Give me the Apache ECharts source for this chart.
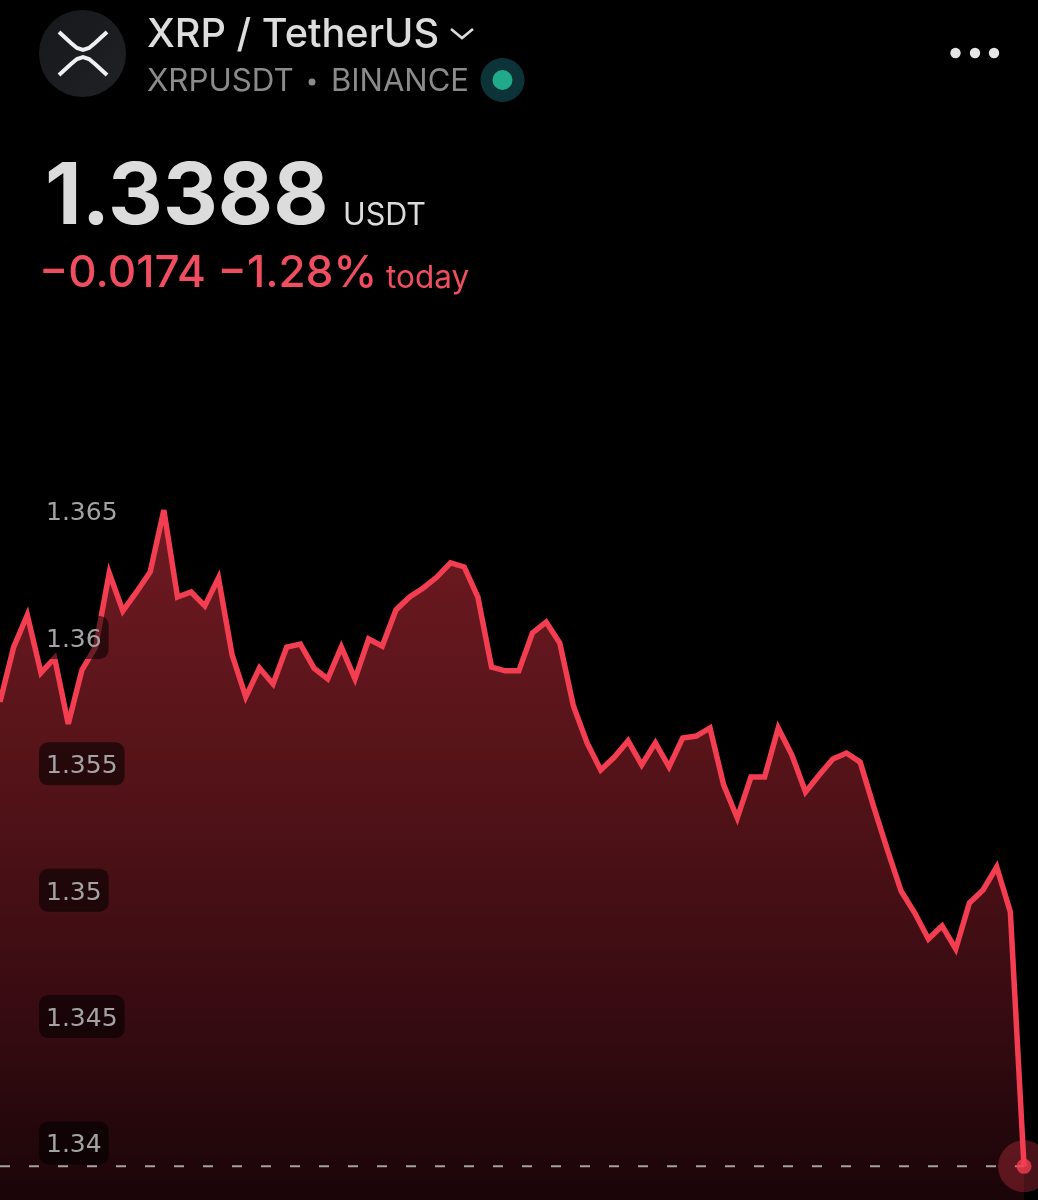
<!DOCTYPE html>
<html>
<head>
<meta charset="utf-8">
<style>html,body{margin:0;padding:0;background:#000}#c{width:1038px;height:1200px}</style>
<script src="https://cdn.jsdelivr.net/npm/echarts@6/dist/echarts.min.js"></script>
</head>
<body>
<div id="c"></div>
<script>
const prices = [
1.35717,1.35934,1.36061,1.35832,1.35891,1.35630,1.35843,1.35934,1.36227,1.36077,
1.36152,1.36231,1.36476,1.36132,1.36152,1.36097,1.36207,1.35903,1.35737,1.35851,
1.35788,1.35934,1.35946,1.35851,1.35808,1.35934,1.35808,1.35966,1.35938,1.36081,
1.36132,1.36168,1.36211,1.36267,1.36251,1.36132,1.35855,1.35840,1.35840,1.35990,
1.36033,1.35950,1.35701,1.35555,1.35448,1.35499,1.35563,1.35468,1.35555,1.35460,
1.35574,1.35582,1.35614,1.35389,1.35258,1.35420,1.35420,1.35614,1.35507,1.35361,
1.35428,1.35491,1.35515,1.35479,1.35301,1.35131,1.34969,1.34882,1.34779,1.34831,
1.34740,1.34922,1.34973,1.35064,1.34886,1.3388];
const categories = prices.map((_, i) => String(i));
const yTicks = [1.34, 1.345, 1.35, 1.355, 1.36, 1.365];
const lastPrice = 1.3388;
const titleText = 'XRP / TetherUS';
const subLeft = 'XRPUSDT';
const subRight = 'BINANCE';
const priceText = '1.3388';
const unitText = 'USDT';
const changeText = '\u22120.0174 \u22121.28%';
const todayText = 'today';

const FONT = 'Inter, "Noto Sans", sans-serif';
const RED = '#f33e52';
const chart = echarts.init(document.getElementById('c'), null, {renderer:'canvas', width:1038, height:1200});

function txt(text, x, y, size, weight, fill) {
  return {type:'text', z:20, silent:true, style:{text, x, y, fill, font:`${weight} ${size}px ${FONT}`, verticalAlign:'middle', align:'left'}};
}
function poly(points, color, w) {
  return {type:'polyline', z:21, silent:true, shape:{points}, style:{stroke:color, fill:null, lineWidth:w}};
}
chart.setOption({
  animation:false,
  backgroundColor:'#000',
  grid:{left:0, width:1024, top:377.6, height:822.4, containLabel:false},
  xAxis:{type:'category', data:categories, boundaryGap:false, show:false},
  yAxis:{
    type:'value', min:1.337468, max:1.37, z:5,
    axisLine:{show:false}, axisTick:{show:false}, splitLine:{show:false},
    axisLabel:{
      inside:true, margin:39, hideOverlap:false, padding:[14,0,0,0],
      customValues:yTicks,
      formatter:v => '{a|' + String(+v.toFixed(3)) + '}',
      rich:{a:{fontFamily:'"DejaVu Sans"', fontSize:25, fontWeight:400, color:'#a3a3a3', backgroundColor:'rgba(0,0,0,0.55)',
        borderRadius:9, padding:[12,7,6,7], lineHeight:24}}
    }
  },
  series:[
    {type:'line', data:prices, symbol:'none', smooth:false, z:2,
     lineStyle:{color:RED, width:5.5, join:'miter', miterLimit:4},
     areaStyle:{opacity:1, color:{type:'linear', global:true, x:0, y:500, x2:0, y2:1200, colorStops:[
       {offset:0, color:'#701a22'},{offset:0.35, color:'#571419'},{offset:0.7, color:'#3a0c12'},{offset:1, color:'#1a0508'}]}}
    },
    {type:'line', data:prices.map(() => lastPrice), symbol:'none', z:2.5, silent:true,
     lineStyle:{color:'#a8a0a0', width:2, type:[10,19]}},
    {type:'scatter', data:[[prices.length-1, lastPrice]], symbolSize:52, z:3, clip:false, silent:true,
     itemStyle:{color:'rgba(243,62,82,0.36)'}},
    {type:'scatter', data:[[prices.length-1, lastPrice]], symbolSize:15, z:4, clip:false, silent:true,
     itemStyle:{color:RED}}
  ],
  graphic:[
    {type:'circle', z:20, silent:true, shape:{cx:82.5, cy:53.5, r:43.5},
     style:{fill:{type:'linear', x:0, y:0, x2:1, y2:1, colorStops:[{offset:0, color:'#16181b'},{offset:1, color:'#1f2124'}]}}},
    poly([[59,32],[71,43],[77,48],[83,50],[89,48],[95,43],[107,32]], '#f0f0f0', 4),
    poly([[59,75],[71,64],[77,59],[83,57],[89,59],[95,64],[107,75]], '#f0f0f0', 4),
    txt(titleText, 147, 35, 39.7, 500, '#dddddd'),
    poly([[451,29],[462,38],[473,29]], '#dddddd', 2.6),
    txt(subLeft, 147, 81.5, 31.3, 400, '#8b8b8b'),
    {type:'circle', z:20, silent:true, shape:{cx:312, cy:82, r:3.5}, style:{fill:'#8b8b8b'}},
    txt(subRight, 331, 81.5, 31, 400, '#8b8b8b'),
    {type:'circle', z:20, silent:true, shape:{cx:502.5, cy:80, r:22}, style:{fill:'#0b3338'}},
    {type:'circle', z:21, silent:true, shape:{cx:502.5, cy:80, r:10}, style:{fill:'#21a98c'}},
    {type:'circle', z:20, silent:true, shape:{cx:955.5, cy:53, r:5.2}, style:{fill:'#e6e6e6'}},
    {type:'circle', z:20, silent:true, shape:{cx:975, cy:53, r:5.2}, style:{fill:'#e6e6e6'}},
    {type:'circle', z:20, silent:true, shape:{cx:994, cy:53, r:5.2}, style:{fill:'#e6e6e6'}},
    txt(priceText, 45, 198, 85, 700, '#dcdcdc'),
    txt(unitText, 343, 216, 30.5, 400, '#dcdcdc'),
    txt(changeText, 39, 274, 44, 500, '#f04e60'),
    txt(todayText, 386, 279, 31.5, 400, '#f04e60')
  ]
});
</script>
</body>
</html>
